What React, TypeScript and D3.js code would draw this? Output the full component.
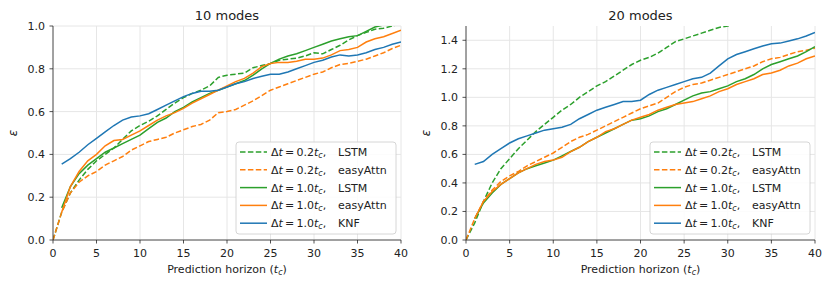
import React from "react";
import * as d3 from "d3";

// x sample points
const xDense = d3.range(0, 41);
const xSparse = d3.range(1, 41);

// 10 modes
const m10_lstm02 = [0, 0.13, 0.22, 0.28, 0.33, 0.37, 0.4, 0.43, 0.47, 0.51, 0.535, 0.555, 0.58, 0.61, 0.64, 0.665, 0.685, 0.7, 0.72, 0.76, 0.77, 0.775, 0.78, 0.805, 0.815, 0.825, 0.84, 0.845, 0.85, 0.86, 0.875, 0.87, 0.89, 0.91, 0.935, 0.955, 0.97, 0.985, 0.99, 1.0, 1.01];
const m10_attn02 = [0, 0.13, 0.22, 0.27, 0.3, 0.32, 0.35, 0.37, 0.39, 0.42, 0.44, 0.46, 0.47, 0.48, 0.5, 0.515, 0.53, 0.54, 0.56, 0.595, 0.6, 0.61, 0.63, 0.65, 0.675, 0.7, 0.715, 0.73, 0.745, 0.76, 0.775, 0.785, 0.805, 0.82, 0.825, 0.835, 0.845, 0.86, 0.875, 0.895, 0.91];
const m10_lstm10 = [0.15, 0.25, 0.31, 0.35, 0.38, 0.41, 0.43, 0.45, 0.47, 0.49, 0.52, 0.55, 0.57, 0.6, 0.62, 0.645, 0.665, 0.685, 0.7, 0.715, 0.73, 0.745, 0.77, 0.8, 0.825, 0.845, 0.86, 0.87, 0.885, 0.9, 0.915, 0.93, 0.94, 0.95, 0.955, 0.975, 0.995, 1.005, 1.01, 1.02];
const m10_attn10 = [0.13, 0.25, 0.32, 0.37, 0.4, 0.44, 0.465, 0.47, 0.49, 0.51, 0.535, 0.56, 0.58, 0.595, 0.615, 0.64, 0.66, 0.68, 0.7, 0.72, 0.74, 0.755, 0.78, 0.81, 0.825, 0.83, 0.83, 0.835, 0.845, 0.845, 0.85, 0.865, 0.885, 0.89, 0.9, 0.925, 0.94, 0.95, 0.965, 0.98];
const m10_knf = [0.355, 0.38, 0.41, 0.445, 0.475, 0.505, 0.535, 0.56, 0.575, 0.58, 0.59, 0.61, 0.63, 0.65, 0.67, 0.685, 0.695, 0.695, 0.7, 0.715, 0.73, 0.74, 0.755, 0.765, 0.775, 0.775, 0.785, 0.8, 0.815, 0.83, 0.84, 0.855, 0.865, 0.86, 0.865, 0.875, 0.89, 0.9, 0.915, 0.925];

// 20 modes
const m20_lstm02 = [0, 0.12, 0.27, 0.4, 0.5, 0.57, 0.64, 0.7, 0.76, 0.81, 0.86, 0.91, 0.95, 1.0, 1.04, 1.08, 1.11, 1.15, 1.19, 1.23, 1.26, 1.28, 1.31, 1.35, 1.39, 1.41, 1.43, 1.45, 1.47, 1.49, 1.5, 1.52, 1.54];
const m20_attn02 = [0, 0.15, 0.27, 0.35, 0.41, 0.45, 0.48, 0.52, 0.55, 0.58, 0.61, 0.65, 0.69, 0.72, 0.74, 0.77, 0.8, 0.83, 0.86, 0.89, 0.92, 0.94, 0.96, 1.0, 1.04, 1.07, 1.09, 1.1, 1.12, 1.14, 1.16, 1.18, 1.2, 1.22, 1.25, 1.27, 1.28, 1.3, 1.32, 1.33, 1.345];
const m20_lstm10 = [0.15, 0.26, 0.33, 0.39, 0.43, 0.47, 0.5, 0.52, 0.54, 0.56, 0.59, 0.62, 0.65, 0.69, 0.72, 0.75, 0.78, 0.81, 0.84, 0.85, 0.87, 0.9, 0.92, 0.95, 0.98, 1.01, 1.03, 1.04, 1.06, 1.08, 1.11, 1.13, 1.16, 1.2, 1.23, 1.25, 1.27, 1.29, 1.32, 1.355];
const m20_attn10 = [0.15, 0.27, 0.34, 0.39, 0.43, 0.47, 0.5, 0.53, 0.55, 0.56, 0.58, 0.62, 0.65, 0.69, 0.72, 0.76, 0.78, 0.81, 0.84, 0.86, 0.88, 0.91, 0.93, 0.95, 0.96, 0.97, 0.99, 1.01, 1.04, 1.06, 1.09, 1.11, 1.13, 1.16, 1.17, 1.19, 1.22, 1.24, 1.27, 1.29];
const m20_knf = [0.53, 0.55, 0.6, 0.64, 0.68, 0.71, 0.73, 0.75, 0.77, 0.78, 0.79, 0.81, 0.85, 0.88, 0.91, 0.93, 0.95, 0.97, 0.97, 0.98, 1.02, 1.05, 1.07, 1.09, 1.11, 1.13, 1.14, 1.17, 1.22, 1.27, 1.3, 1.32, 1.34, 1.36, 1.375, 1.38, 1.395, 1.41, 1.43, 1.455];

const xTicks = [0, 5, 10, 15, 20, 25, 30, 35, 40];
const yTicks10 = [0, 0.2, 0.4, 0.6, 0.8, 1.0];
const yTicks20 = [0, 0.2, 0.4, 0.6, 0.8, 1.0, 1.2, 1.4];

const GREEN = "#2ca02c";
const ORANGE = "#ff7f0e";
const BLUE = "#1f77b4";

const legendItems = [
  { dt: "0.2", name: "LSTM", color: GREEN, dashed: true },
  { dt: "0.2", name: "easyAttn", color: ORANGE, dashed: true },
  { dt: "1.0", name: "LSTM", color: GREEN, dashed: false },
  { dt: "1.0", name: "easyAttn", color: ORANGE, dashed: false },
  { dt: "1.0", name: "KNF", color: BLUE, dashed: false },
];

const FONT = "DejaVu Sans, sans-serif";

type Series = { xs: number[]; ys: number[]; color: string; dashed: boolean };

function Panel(props: {
  id: string;
  left: number;
  right: number;
  top: number;
  bottom: number;
  yMax: number;
  yTicks: number[];
  title: string;
  series: Series[];
}) {
  const { id, left, right, top, bottom, yMax, yTicks, title, series } = props;
  const x = d3.scaleLinear().domain([0, 40]).range([left, right]);
  const y = d3.scaleLinear().domain([0, yMax]).range([bottom, top]);
  const line = d3
    .line<[number, number]>()
    .x((d) => x(d[0]))
    .y((d) => y(d[1]));

  const lgW = 160;
  const lgH = 92;
  const lgX = right - 5 - lgW;
  const lgY = bottom - 6 - lgH;

  return (
    <g>
      <defs>
        <clipPath id={id}>
          <rect x={left} y={top} width={right - left} height={bottom - top} />
        </clipPath>
      </defs>
      {xTicks.map((t) => (
        <line key={"gx" + t} x1={x(t)} x2={x(t)} y1={top} y2={bottom} stroke="#e6e6e6" strokeWidth={1} />
      ))}
      {yTicks.map((t) => (
        <line key={"gy" + t} x1={left} x2={right} y1={y(t)} y2={y(t)} stroke="#e6e6e6" strokeWidth={1} />
      ))}
      <g clipPath={`url(#${id})`}>
        {series.map((s, i) => (
          <path
            key={i}
            d={line(s.xs.slice(0, s.ys.length).map((v, k) => [v, s.ys[k]] as [number, number])) || ""}
            fill="none"
            stroke={s.color}
            strokeWidth={1.5}
            strokeDasharray={s.dashed ? "5.5,2.4" : undefined}
          />
        ))}
      </g>
      <line x1={left} x2={left} y1={top} y2={bottom} stroke="#262626" strokeWidth={0.8} />
      <line x1={left} x2={right} y1={bottom} y2={bottom} stroke="#262626" strokeWidth={0.8} />
      {xTicks.map((t) => (
        <g key={"tx" + t}>
          <line x1={x(t)} x2={x(t)} y1={bottom} y2={bottom + 3.5} stroke="#262626" strokeWidth={0.8} />
          <text x={x(t)} y={bottom + 17} fontSize={11} textAnchor="middle" fontFamily={FONT} fill="#222">
            {t}
          </text>
        </g>
      ))}
      {yTicks.map((t) => (
        <g key={"ty" + t}>
          <line x1={left - 3.5} x2={left} y1={y(t)} y2={y(t)} stroke="#262626" strokeWidth={0.8} />
          <text x={left - 8} y={y(t) + 4} fontSize={11} textAnchor="end" fontFamily={FONT} fill="#222">
            {t.toFixed(1)}
          </text>
        </g>
      ))}
      <text x={(left + right) / 2} y={19.5} fontSize={13} textAnchor="middle" fontFamily={FONT} fill="#222">
        {title}
      </text>
      <text x={(left + right) / 2} y={bottom + 33} fontSize={11} textAnchor="middle" fontFamily={FONT} fill="#222">
        Prediction horizon (<tspan fontStyle="italic">t</tspan>
        <tspan fontSize={8} dy={2} fontStyle="italic">c</tspan>
        <tspan dy={-2}>)</tspan>
      </text>
      <text
        transform={`translate(${left - 36},${(top + bottom) / 2}) rotate(-90)`}
        fontSize={12}
        textAnchor="middle"
        fontFamily={FONT}
        fontStyle="italic"
        fill="#222"
      >
        ε
      </text>
      <rect x={lgX} y={lgY} width={lgW} height={lgH} rx={3} fill="white" fillOpacity={0.85} stroke="#cccccc" strokeWidth={0.8} />
      {legendItems.map((it, i) => {
        const ry = lgY + 10 + i * 17.8;
        return (
          <g key={"lg" + i}>
            <line
              x1={lgX + 4}
              x2={lgX + 31}
              y1={ry}
              y2={ry}
              stroke={it.color}
              strokeWidth={1.5}
              strokeDasharray={it.dashed ? "5.5,2.4" : undefined}
            />
            <text x={lgX + 35} y={ry + 4} fontSize={11} fontFamily={FONT} fill="#222">
              Δ<tspan fontStyle="italic">t</tspan>
              {"\u2009=\u2009"}
              {it.dt}
              <tspan fontStyle="italic">t</tspan>
              <tspan fontSize={8} dy={2} fontStyle="italic">c</tspan>
              <tspan dy={-2}>,</tspan>
            </text>
            <text x={lgX + 102} y={ry + 4} fontSize={11} fontFamily={FONT} fill="#222">
              {it.name}
            </text>
          </g>
        );
      })}
    </g>
  );
}

export default function App() {
  const s10: Series[] = [
    { xs: xDense, ys: m10_lstm02, color: GREEN, dashed: true },
    { xs: xDense, ys: m10_attn02, color: ORANGE, dashed: true },
    { xs: xSparse, ys: m10_lstm10, color: GREEN, dashed: false },
    { xs: xSparse, ys: m10_attn10, color: ORANGE, dashed: false },
    { xs: xSparse, ys: m10_knf, color: BLUE, dashed: false },
  ];
  const s20: Series[] = [
    { xs: xDense, ys: m20_lstm02, color: GREEN, dashed: true },
    { xs: xDense, ys: m20_attn02, color: ORANGE, dashed: true },
    { xs: xSparse, ys: m20_lstm10, color: GREEN, dashed: false },
    { xs: xSparse, ys: m20_attn10, color: ORANGE, dashed: false },
    { xs: xSparse, ys: m20_knf, color: BLUE, dashed: false },
  ];
  return (
    <svg width={830} height={285} style={{ position: "absolute", left: 0, top: 0, background: "white" }}>
      <Panel id="c10" left={53} right={401} top={26} bottom={240} yMax={1.0} yTicks={yTicks10} title="10 modes" series={s10} />
      <Panel id="c20" left={466} right={815} top={26} bottom={240} yMax={1.5} yTicks={yTicks20} title="20 modes" series={s20} />
    </svg>
  );
}
